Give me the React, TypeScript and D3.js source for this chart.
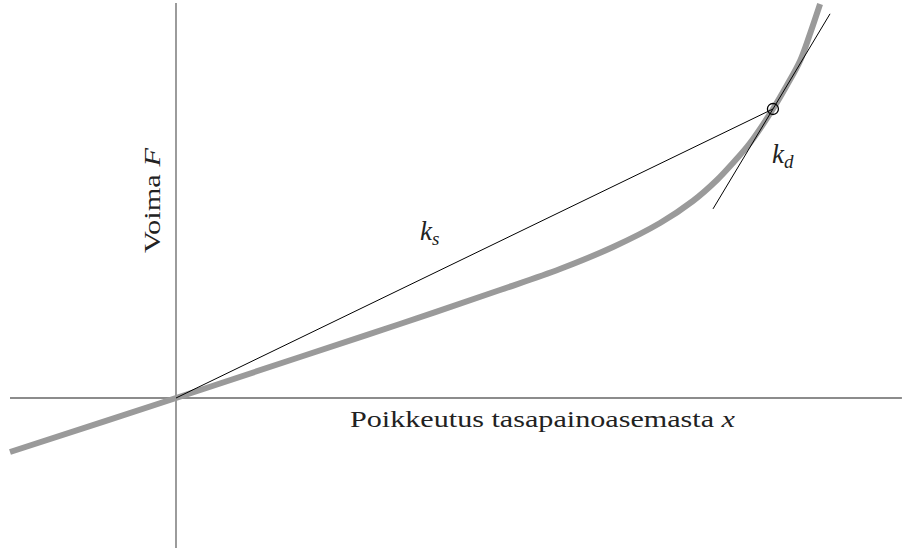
import React from "react";
import * as d3 from "d3";

// Force–displacement curve (data units: x = displacement, y = force)
const curveX = [-1, 0, 0.747, 1.349, 1.952, 2.313, 2.633, 2.916, 3.114, 3.259, 3.355, 3.458, 3.596, 3.681, 3.759, 3.819, 3.88];
const curveY = [-0.54, 0, 0.41, 0.74, 1.08, 1.29, 1.51, 1.75, 1.97, 2.18, 2.35, 2.55, 2.89, 3.13, 3.37, 3.64, 3.94];

// Operating point, secant (k_s) and tangent (k_d)
const pointX = 3.596;
const pointY = 2.89;
const tangentSlope = 2.767;
const tangentFrom = 3.235;
const tangentTo = 3.94;

// Axis extents
const xAxisExtent = [-1, 4.373];
const yAxisExtent = [-1.5, 3.95];

const xLabel = "Poikkeutus tasapainoasemasta ";
const yLabel = "Voima ";

const W = 902;
const H = 548;

export default function App() {
  const x = d3.scaleLinear().domain([-1, 0]).range([10, 176]);
  const y = d3.scaleLinear().domain([0, 1]).range([398, 298]);

  const pts: [number, number][] = curveX.map((v, i) => [v, curveY[i]]);
  const line = d3
    .line<[number, number]>()
    .x((d) => x(d[0]))
    .y((d) => y(d[1]))
    .curve(d3.curveCatmullRom.alpha(0.5));

  const tY = (t: number) => pointY + tangentSlope * (t - pointX);
  const font = "Liberation Serif, Times New Roman, Times, serif";

  return (
    <svg
      width={W}
      height={H}
      style={{ position: "absolute", left: 0, top: 0, background: "#fff" }}
    >
      {/* axes */}
      <line x1={x(xAxisExtent[0])} x2={x(xAxisExtent[1])} y1={y(0)} y2={y(0)} stroke="#666" strokeWidth={1.3} />
      <line x1={x(0)} x2={x(0)} y1={y(yAxisExtent[0])} y2={y(yAxisExtent[1])} stroke="#666" strokeWidth={1.3} />

      {/* force curve */}
      <path d={line(pts) || ""} fill="none" stroke="#9a9a9a" strokeWidth={6} />

      {/* secant */}
      <line x1={x(0)} y1={y(0)} x2={x(pointX)} y2={y(pointY)} stroke="#000" strokeWidth={1} />
      {/* tangent */}
      <line x1={x(tangentFrom)} y1={y(tY(tangentFrom))} x2={x(tangentTo)} y2={y(tY(tangentTo))} stroke="#000" strokeWidth={1} />
      <circle cx={x(pointX)} cy={y(pointY)} r={5.5} fill="none" stroke="#000" strokeWidth={1.3} />

      {/* labels */}
      <g style={{ fontFamily: font }} fill="#222">
        <text x={350} y={427} fontSize={23} textLength={385} lengthAdjust="spacingAndGlyphs">
          {xLabel}
          <tspan fontStyle="italic">x</tspan>
        </text>
        <text
          transform="translate(160,253) rotate(-90)"
          fontSize={23}
          textLength={105}
          lengthAdjust="spacingAndGlyphs"
        >
          {yLabel}
          <tspan fontStyle="italic">F</tspan>
        </text>
        <text x={420} y={240} fontSize={27} fontStyle="italic">
          k<tspan fontSize={19} dy={5}>s</tspan>
        </text>
        <text x={772} y={163} fontSize={27} fontStyle="italic">
          k<tspan fontSize={19} dy={5}>d</tspan>
        </text>
      </g>
    </svg>
  );
}
